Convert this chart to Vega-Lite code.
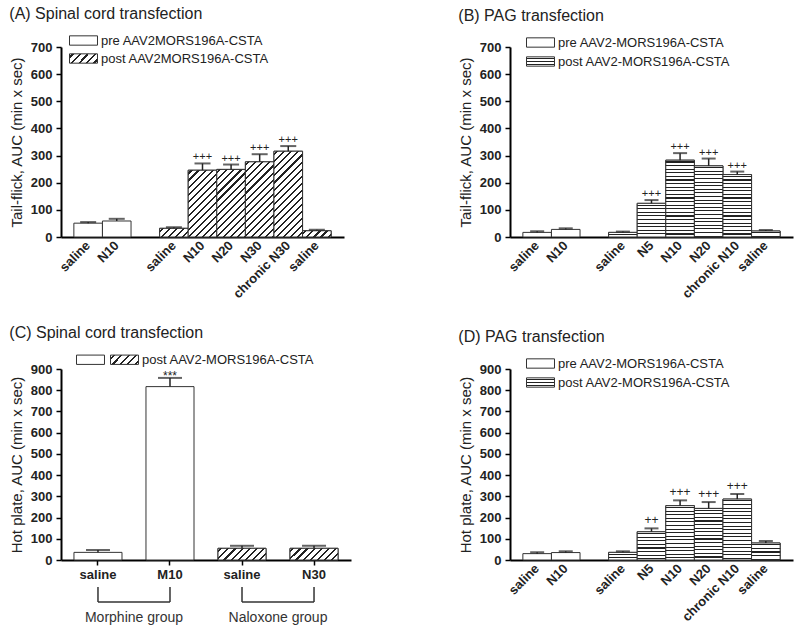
{
  "$schema": "https://vega.github.io/schema/vega-lite/v6.json",
  "background": "white",
  "padding": {"left": 9, "top": 6, "right": 4, "bottom": 0},
  "params": [
    {"name": "hatchLegend", "expr": "{gradient:'linear',x1:0,y1:0,x2:1.2,y2:0.385,stops:[{offset:0,color:'#fff'},{offset:0.07,color:'#fff'},{offset:0.07,color:'#222'},{offset:0.13,color:'#222'},{offset:0.13,color:'#fff'},{offset:0.27,color:'#fff'},{offset:0.27,color:'#222'},{offset:0.33,color:'#222'},{offset:0.33,color:'#fff'},{offset:0.47,color:'#fff'},{offset:0.47,color:'#222'},{offset:0.53,color:'#222'},{offset:0.53,color:'#fff'},{offset:0.67,color:'#fff'},{offset:0.67,color:'#222'},{offset:0.73,color:'#222'},{offset:0.73,color:'#fff'},{offset:0.87,color:'#fff'},{offset:0.87,color:'#222'},{offset:0.93,color:'#222'},{offset:0.93,color:'#fff'},{offset:1,color:'#fff'}]}"},
    {"name": "stripesLegend", "expr": "{gradient:'linear',x1:0,y1:0,x2:0,y2:1,stops:[{offset:0,color:'#fff'},{offset:0.117,color:'#fff'},{offset:0.117,color:'#222'},{offset:0.217,color:'#222'},{offset:0.217,color:'#fff'},{offset:0.45,color:'#fff'},{offset:0.45,color:'#222'},{offset:0.55,color:'#222'},{offset:0.55,color:'#fff'},{offset:0.783,color:'#fff'},{offset:0.783,color:'#222'},{offset:0.883,color:'#222'},{offset:0.883,color:'#fff'},{offset:1,color:'#fff'}]}"},
    {"name": "hatchStops", "expr": "[{offset:0,color:'#fff'},{offset:0.0175,color:'#fff'},{offset:0.0175,color:'#222'},{offset:0.0325,color:'#222'},{offset:0.0325,color:'#fff'},{offset:0.0675,color:'#fff'},{offset:0.0675,color:'#222'},{offset:0.0825,color:'#222'},{offset:0.0825,color:'#fff'},{offset:0.1175,color:'#fff'},{offset:0.1175,color:'#222'},{offset:0.1325,color:'#222'},{offset:0.1325,color:'#fff'},{offset:0.1675,color:'#fff'},{offset:0.1675,color:'#222'},{offset:0.1825,color:'#222'},{offset:0.1825,color:'#fff'},{offset:0.2175,color:'#fff'},{offset:0.2175,color:'#222'},{offset:0.2325,color:'#222'},{offset:0.2325,color:'#fff'},{offset:0.2675,color:'#fff'},{offset:0.2675,color:'#222'},{offset:0.2825,color:'#222'},{offset:0.2825,color:'#fff'},{offset:0.3175,color:'#fff'},{offset:0.3175,color:'#222'},{offset:0.3325,color:'#222'},{offset:0.3325,color:'#fff'},{offset:0.3675,color:'#fff'},{offset:0.3675,color:'#222'},{offset:0.3825,color:'#222'},{offset:0.3825,color:'#fff'},{offset:0.4175,color:'#fff'},{offset:0.4175,color:'#222'},{offset:0.4325,color:'#222'},{offset:0.4325,color:'#fff'},{offset:0.4675,color:'#fff'},{offset:0.4675,color:'#222'},{offset:0.4825,color:'#222'},{offset:0.4825,color:'#fff'},{offset:0.5175,color:'#fff'},{offset:0.5175,color:'#222'},{offset:0.5325,color:'#222'},{offset:0.5325,color:'#fff'},{offset:0.5675,color:'#fff'},{offset:0.5675,color:'#222'},{offset:0.5825,color:'#222'},{offset:0.5825,color:'#fff'},{offset:0.6175,color:'#fff'},{offset:0.6175,color:'#222'},{offset:0.6325,color:'#222'},{offset:0.6325,color:'#fff'},{offset:0.6675,color:'#fff'},{offset:0.6675,color:'#222'},{offset:0.6825,color:'#222'},{offset:0.6825,color:'#fff'},{offset:0.7175,color:'#fff'},{offset:0.7175,color:'#222'},{offset:0.7325,color:'#222'},{offset:0.7325,color:'#fff'},{offset:0.7675,color:'#fff'},{offset:0.7675,color:'#222'},{offset:0.7825,color:'#222'},{offset:0.7825,color:'#fff'},{offset:0.8175,color:'#fff'},{offset:0.8175,color:'#222'},{offset:0.8325,color:'#222'},{offset:0.8325,color:'#fff'},{offset:0.8675,color:'#fff'},{offset:0.8675,color:'#222'},{offset:0.8825,color:'#222'},{offset:0.8825,color:'#fff'},{offset:0.9175,color:'#fff'},{offset:0.9175,color:'#222'},{offset:0.9325,color:'#222'},{offset:0.9325,color:'#fff'},{offset:0.9675,color:'#fff'},{offset:0.9675,color:'#222'},{offset:0.9825,color:'#222'},{offset:0.9825,color:'#fff'},{offset:1,color:'#fff'}]"},
    {"name": "stripeStops", "expr": "[{offset:0,color:'#fff'},{offset:0.0146,color:'#fff'},{offset:0.0146,color:'#222'},{offset:0.0271,color:'#222'},{offset:0.0271,color:'#fff'},{offset:0.0563,color:'#fff'},{offset:0.0563,color:'#222'},{offset:0.0688,color:'#222'},{offset:0.0688,color:'#fff'},{offset:0.0979,color:'#fff'},{offset:0.0979,color:'#222'},{offset:0.1104,color:'#222'},{offset:0.1104,color:'#fff'},{offset:0.1396,color:'#fff'},{offset:0.1396,color:'#222'},{offset:0.1521,color:'#222'},{offset:0.1521,color:'#fff'},{offset:0.1813,color:'#fff'},{offset:0.1813,color:'#222'},{offset:0.1938,color:'#222'},{offset:0.1938,color:'#fff'},{offset:0.2229,color:'#fff'},{offset:0.2229,color:'#222'},{offset:0.2354,color:'#222'},{offset:0.2354,color:'#fff'},{offset:0.2646,color:'#fff'},{offset:0.2646,color:'#222'},{offset:0.2771,color:'#222'},{offset:0.2771,color:'#fff'},{offset:0.3063,color:'#fff'},{offset:0.3063,color:'#222'},{offset:0.3188,color:'#222'},{offset:0.3188,color:'#fff'},{offset:0.3479,color:'#fff'},{offset:0.3479,color:'#222'},{offset:0.3604,color:'#222'},{offset:0.3604,color:'#fff'},{offset:0.3896,color:'#fff'},{offset:0.3896,color:'#222'},{offset:0.4021,color:'#222'},{offset:0.4021,color:'#fff'},{offset:0.4313,color:'#fff'},{offset:0.4313,color:'#222'},{offset:0.4438,color:'#222'},{offset:0.4438,color:'#fff'},{offset:0.4729,color:'#fff'},{offset:0.4729,color:'#222'},{offset:0.4854,color:'#222'},{offset:0.4854,color:'#fff'},{offset:0.5146,color:'#fff'},{offset:0.5146,color:'#222'},{offset:0.5271,color:'#222'},{offset:0.5271,color:'#fff'},{offset:0.5563,color:'#fff'},{offset:0.5563,color:'#222'},{offset:0.5688,color:'#222'},{offset:0.5688,color:'#fff'},{offset:0.5979,color:'#fff'},{offset:0.5979,color:'#222'},{offset:0.6104,color:'#222'},{offset:0.6104,color:'#fff'},{offset:0.6396,color:'#fff'},{offset:0.6396,color:'#222'},{offset:0.6521,color:'#222'},{offset:0.6521,color:'#fff'},{offset:0.6813,color:'#fff'},{offset:0.6813,color:'#222'},{offset:0.6938,color:'#222'},{offset:0.6938,color:'#fff'},{offset:0.7229,color:'#fff'},{offset:0.7229,color:'#222'},{offset:0.7354,color:'#222'},{offset:0.7354,color:'#fff'},{offset:0.7646,color:'#fff'},{offset:0.7646,color:'#222'},{offset:0.7771,color:'#222'},{offset:0.7771,color:'#fff'},{offset:0.8063,color:'#fff'},{offset:0.8063,color:'#222'},{offset:0.8188,color:'#222'},{offset:0.8188,color:'#fff'},{offset:0.8479,color:'#fff'},{offset:0.8479,color:'#222'},{offset:0.8604,color:'#222'},{offset:0.8604,color:'#fff'},{offset:0.8896,color:'#fff'},{offset:0.8896,color:'#222'},{offset:0.9021,color:'#222'},{offset:0.9021,color:'#fff'},{offset:0.9313,color:'#fff'},{offset:0.9313,color:'#222'},{offset:0.9438,color:'#222'},{offset:0.9438,color:'#fff'},{offset:0.9729,color:'#fff'},{offset:0.9729,color:'#222'},{offset:0.9854,color:'#222'},{offset:0.9854,color:'#fff'},{offset:1,color:'#fff'}]"}
  ],
  "datasets": {
    "A": [
      {"cat": "saline", "phase": "pre AAV2MORS196A-CSTA", "mean": 51, "upper": 55, "sig": ""},
      {"cat": "N10", "phase": "pre AAV2MORS196A-CSTA", "mean": 59, "upper": 67, "sig": ""},
      {"cat": "saline\u200b", "phase": "post AAV2MORS196A-CSTA", "mean": 32, "upper": 36, "sig": ""},
      {"cat": "N10\u200b", "phase": "post AAV2MORS196A-CSTA", "mean": 246, "upper": 271, "sig": "+++"},
      {"cat": "N20", "phase": "post AAV2MORS196A-CSTA", "mean": 249, "upper": 267, "sig": "+++"},
      {"cat": "N30", "phase": "post AAV2MORS196A-CSTA", "mean": 277, "upper": 305, "sig": "+++"},
      {"cat": "chronic N30", "phase": "post AAV2MORS196A-CSTA", "mean": 316, "upper": 335, "sig": "+++"},
      {"cat": "saline\u200b\u200b", "phase": "post AAV2MORS196A-CSTA", "mean": 23, "upper": 27, "sig": ""}
    ],
    "B": [
      {"cat": "saline", "phase": "pre AAV2-MORS196A-CSTA", "mean": 17, "upper": 21, "sig": ""},
      {"cat": "N10", "phase": "pre AAV2-MORS196A-CSTA", "mean": 28, "upper": 32, "sig": ""},
      {"cat": "saline\u200b", "phase": "post AAV2-MORS196A-CSTA", "mean": 17, "upper": 20, "sig": ""},
      {"cat": "N5", "phase": "post AAV2-MORS196A-CSTA", "mean": 124, "upper": 136, "sig": "+++"},
      {"cat": "N10\u200b", "phase": "post AAV2-MORS196A-CSTA", "mean": 283, "upper": 309, "sig": "+++"},
      {"cat": "N20", "phase": "post AAV2-MORS196A-CSTA", "mean": 262, "upper": 289, "sig": "+++"},
      {"cat": "chronic N10", "phase": "post AAV2-MORS196A-CSTA", "mean": 230, "upper": 241, "sig": "+++"},
      {"cat": "saline\u200b\u200b", "phase": "post AAV2-MORS196A-CSTA", "mean": 22, "upper": 26, "sig": ""}
    ],
    "C": [
      {"cat": "saline", "phase": "pre AAV2-MORS196A-CSTA", "mean": 36, "upper": 47, "sig": ""},
      {"cat": "M10", "phase": "pre AAV2-MORS196A-CSTA", "mean": 817, "upper": 858, "sig": "***"},
      {"cat": "saline\u200b", "phase": "post AAV2-MORS196A-CSTA", "mean": 55, "upper": 67, "sig": ""},
      {"cat": "N30", "phase": "post AAV2-MORS196A-CSTA", "mean": 55, "upper": 67, "sig": ""}
    ],
    "Cgroups": [
      {"group": "Morphine group", "from": "saline", "to": "M10"},
      {"group": "Naloxone group", "from": "saline\u200b", "to": "N30"}
    ],
    "D": [
      {"cat": "saline", "phase": "pre AAV2-MORS196A-CSTA", "mean": 30, "upper": 36, "sig": ""},
      {"cat": "N10", "phase": "pre AAV2-MORS196A-CSTA", "mean": 35, "upper": 41, "sig": ""},
      {"cat": "saline\u200b", "phase": "post AAV2-MORS196A-CSTA", "mean": 36, "upper": 41, "sig": ""},
      {"cat": "N5", "phase": "post AAV2-MORS196A-CSTA", "mean": 133, "upper": 149, "sig": "++"},
      {"cat": "N10\u200b", "phase": "post AAV2-MORS196A-CSTA", "mean": 256, "upper": 281, "sig": "+++"},
      {"cat": "N20", "phase": "post AAV2-MORS196A-CSTA", "mean": 243, "upper": 273, "sig": "+++"},
      {"cat": "chronic N10", "phase": "post AAV2-MORS196A-CSTA", "mean": 287, "upper": 311, "sig": "+++"},
      {"cat": "saline\u200b\u200b", "phase": "post AAV2-MORS196A-CSTA", "mean": 80, "upper": 90, "sig": ""}
    ]
  },
  "columns": 2,
  "spacing": {"column": 107, "row": 24},
  "resolve": {"scale": {"fill": "independent"}, "legend": {"fill": "independent"}},
  "concat": [
    {
      "width": 283, "height": 190,
      "title": "(A) Spinal cord transfection",
      "data": {"name": "A"},
      "encoding": {
        "x": {"field": "cat", "type": "nominal", "sort": null,
          "scale": {"domain": ["saline", "N10", "\u200b\u200b\u200b", "saline\u200b", "N10\u200b", "N20", "N30", "chronic N30", "saline\u200b\u200b"], "paddingInner": 0, "paddingOuter": 0.45},
          "axis": {"title": null, "ticks": false, "labelAngle": -45, "labelAlign": "right", "labelBaseline": "middle", "labelPadding": 6, "labelOverlap": false}}
      },
      "layer": [
        {"mark": {"type": "bar", "stroke": "#333", "strokeWidth": 1},
         "encoding": {
           "y": {"field": "mean", "type": "quantitative", "scale": {"domain": [0, 700], "nice": false},
             "axis": {"title": "Tail-flick, AUC (min x sec)", "values": [0, 100, 200, 300, 400, 500, 600, 700], "labelOverlap": false}},
           "fill": {"field": "phase", "type": "nominal",
             "scale": {"domain": ["pre AAV2MORS196A-CSTA", "post AAV2MORS196A-CSTA"], "range": ["#ffffff", {"expr": "hatchLegend"}]},
             "legend": {"title": null, "orient": "none", "legendX": 16, "legendY": -13, "direction": "vertical", "rowPadding": 3}}
         }},
        {"transform": [{"filter": "datum.phase == 'post AAV2MORS196A-CSTA'"}],
         "mark": {"type": "bar", "stroke": "#333", "strokeWidth": 1,
           "fill": {"expr": "{gradient:'linear',x1:0,y1:0,x2:141.4*28.59/(817.4+pow(datum.mean*190/700,2)),y2:141.4*(datum.mean*190/700)/(817.4+pow(datum.mean*190/700,2)),stops:hatchStops}"}},
         "encoding": {"y": {"field": "mean", "type": "quantitative", "axis": {"title": "Tail-flick, AUC (min x sec)", "values": [0, 100, 200, 300, 400, 500, 600, 700], "labelOverlap": false}}}},
        {"mark": {"type": "rule", "color": "#222", "strokeWidth": 1.5},
         "encoding": {"y": {"field": "mean", "type": "quantitative", "axis": {"title": "Tail-flick, AUC (min x sec)", "values": [0, 100, 200, 300, 400, 500, 600, 700], "labelOverlap": false}}, "y2": {"field": "upper"}}},
        {"mark": {"type": "tick", "color": "#222", "thickness": 2, "size": 16, "orient": "horizontal"},
         "encoding": {"y": {"field": "upper", "type": "quantitative", "axis": {"title": "Tail-flick, AUC (min x sec)", "values": [0, 100, 200, 300, 400, 500, 600, 700], "labelOverlap": false}}}},
        {"mark": {"type": "text", "baseline": "bottom", "dy": -1, "fontSize": 11, "color": "#222"},
         "encoding": {"y": {"field": "upper", "type": "quantitative", "axis": {"title": "Tail-flick, AUC (min x sec)", "values": [0, 100, 200, 300, 400, 500, 600, 700], "labelOverlap": false}}, "text": {"field": "sig"}}}
      ]
    },
    {
      "width": 283, "height": 190,
      "title": "(B) PAG transfection",
      "data": {"name": "B"},
      "encoding": {
        "x": {"field": "cat", "type": "nominal", "sort": null,
          "scale": {"domain": ["saline", "N10", "\u200b\u200b\u200b", "saline\u200b", "N5", "N10\u200b", "N20", "chronic N10", "saline\u200b\u200b"], "paddingInner": 0, "paddingOuter": 0.45},
          "axis": {"title": null, "ticks": false, "labelAngle": -45, "labelAlign": "right", "labelBaseline": "middle", "labelPadding": 6, "labelOverlap": false}}
      },
      "layer": [
        {"mark": {"type": "bar", "stroke": "#333", "strokeWidth": 1},
         "encoding": {
           "y": {"field": "mean", "type": "quantitative", "scale": {"domain": [0, 700], "nice": false},
             "axis": {"title": "Tail-flick, AUC (min x sec)", "values": [0, 100, 200, 300, 400, 500, 600, 700], "labelOverlap": false}},
           "fill": {"field": "phase", "type": "nominal",
             "scale": {"domain": ["pre AAV2-MORS196A-CSTA", "post AAV2-MORS196A-CSTA"], "range": ["#ffffff", {"expr": "stripesLegend"}]},
             "legend": {"title": null, "orient": "none", "legendX": 24, "legendY": -11, "direction": "vertical", "rowPadding": 4}}
         }},
        {"transform": [{"filter": "datum.phase == 'post AAV2-MORS196A-CSTA'"}],
         "mark": {"type": "bar", "stroke": "#333", "strokeWidth": 1,
           "fill": {"expr": "{gradient:'linear',x1:0,y1:0,x2:0,y2:86.4/max(1,datum.mean*190/700),stops:stripeStops}"}},
         "encoding": {"y": {"field": "mean", "type": "quantitative", "axis": {"title": "Tail-flick, AUC (min x sec)", "values": [0, 100, 200, 300, 400, 500, 600, 700], "labelOverlap": false}}}},
        {"mark": {"type": "rule", "color": "#222", "strokeWidth": 1.5},
         "encoding": {"y": {"field": "mean", "type": "quantitative", "axis": {"title": "Tail-flick, AUC (min x sec)", "values": [0, 100, 200, 300, 400, 500, 600, 700], "labelOverlap": false}}, "y2": {"field": "upper"}}},
        {"mark": {"type": "tick", "color": "#222", "thickness": 2, "size": 14, "orient": "horizontal"},
         "encoding": {"y": {"field": "upper", "type": "quantitative", "axis": {"title": "Tail-flick, AUC (min x sec)", "values": [0, 100, 200, 300, 400, 500, 600, 700], "labelOverlap": false}}}},
        {"mark": {"type": "text", "baseline": "bottom", "dy": -1, "fontSize": 11, "color": "#222"},
         "encoding": {"y": {"field": "upper", "type": "quantitative", "axis": {"title": "Tail-flick, AUC (min x sec)", "values": [0, 100, 200, 300, 400, 500, 600, 700], "labelOverlap": false}}, "text": {"field": "sig"}}}
      ]
    },
    {
      "width": 290, "height": 191,
      "title": "(C) Spinal cord transfection",
      "layer": [
        {"data": {"name": "C"},
         "mark": {"type": "bar", "stroke": "#333", "strokeWidth": 1},
         "encoding": {
           "x": {"field": "cat", "type": "nominal", "sort": null,
             "scale": {"domain": ["saline", "M10", "saline\u200b", "N30"], "paddingInner": 0.333, "paddingOuter": 0.18},
             "axis": {"title": null, "ticks": true, "labelAngle": 0, "labelPadding": 3}},
           "y": {"field": "mean", "type": "quantitative", "scale": {"domain": [0, 900], "nice": false},
             "axis": {"title": "Hot plate, AUC (min x sec)", "values": [0, 100, 200, 300, 400, 500, 600, 700, 800, 900], "labelOverlap": false}},
           "fill": {"field": "phase", "type": "nominal",
             "scale": {"domain": ["pre AAV2-MORS196A-CSTA", "post AAV2-MORS196A-CSTA"], "range": ["#ffffff", {"expr": "hatchLegend"}]},
             "legend": {"title": null, "orient": "none", "legendX": 23, "legendY": -16, "direction": "horizontal", "columns": 2, "columnPadding": 0,
               "labelExpr": "datum.label == 'pre AAV2-MORS196A-CSTA' ? '' : datum.label"}}
         }},
        {"data": {"name": "C"},
         "transform": [{"filter": "datum.phase == 'post AAV2-MORS196A-CSTA'"}],
         "mark": {"type": "bar", "stroke": "#333", "strokeWidth": 1,
           "fill": {"expr": "{gradient:'linear',x1:0,y1:0,x2:141.4*48/(2304+pow(datum.mean*191/900,2)),y2:141.4*(datum.mean*191/900)/(2304+pow(datum.mean*191/900,2)),stops:hatchStops}"}},
         "encoding": {"x": {"field": "cat", "type": "nominal"}, "y": {"field": "mean", "type": "quantitative", "axis": {"title": "Hot plate, AUC (min x sec)", "values": [0, 100, 200, 300, 400, 500, 600, 700, 800, 900], "labelOverlap": false}}}},
        {"data": {"name": "C"},
         "mark": {"type": "rule", "color": "#222", "strokeWidth": 1.5},
         "encoding": {"x": {"field": "cat", "type": "nominal"}, "y": {"field": "mean", "type": "quantitative", "axis": {"title": "Hot plate, AUC (min x sec)", "values": [0, 100, 200, 300, 400, 500, 600, 700, 800, 900], "labelOverlap": false}}, "y2": {"field": "upper"}}},
        {"data": {"name": "C"},
         "mark": {"type": "tick", "color": "#222", "thickness": 2, "size": 24, "orient": "horizontal"},
         "encoding": {"x": {"field": "cat", "type": "nominal"}, "y": {"field": "upper", "type": "quantitative", "axis": {"title": "Hot plate, AUC (min x sec)", "values": [0, 100, 200, 300, 400, 500, 600, 700, 800, 900], "labelOverlap": false}}}},
        {"data": {"name": "C"},
         "mark": {"type": "text", "baseline": "bottom", "dy": 5, "fontSize": 12, "color": "#222"},
         "encoding": {"x": {"field": "cat", "type": "nominal"}, "y": {"field": "upper", "type": "quantitative", "axis": {"title": "Hot plate, AUC (min x sec)", "values": [0, 100, 200, 300, 400, 500, 600, 700, 800, 900], "labelOverlap": false}}, "text": {"field": "sig"}}},
        {"data": {"name": "C"},
         "mark": {"type": "rule", "color": "#333", "strokeWidth": 1.5},
         "encoding": {"x": {"field": "cat", "type": "nominal"}, "y": {"datum": -127, "type": "quantitative", "axis": {"title": "Hot plate, AUC (min x sec)", "values": [0, 100, 200, 300, 400, 500, 600, 700, 800, 900], "labelOverlap": false}}, "y2": {"datum": -198}}},
        {"data": {"name": "Cgroups"},
         "mark": {"type": "rule", "color": "#333", "strokeWidth": 1.5},
         "encoding": {"x": {"field": "from", "type": "nominal"}, "x2": {"field": "to"}, "y": {"datum": -198, "type": "quantitative", "axis": {"title": "Hot plate, AUC (min x sec)", "values": [0, 100, 200, 300, 400, 500, 600, 700, 800, 900], "labelOverlap": false}}}},
        {"data": {"name": "Cgroups"},
         "mark": {"type": "text", "fontSize": 14, "color": "#333", "dx": 36, "baseline": "middle", "align": "center"},
         "encoding": {"x": {"field": "from", "type": "nominal"}, "y": {"datum": -273, "type": "quantitative", "axis": {"title": "Hot plate, AUC (min x sec)", "values": [0, 100, 200, 300, 400, 500, 600, 700, 800, 900], "labelOverlap": false}}, "text": {"field": "group"}}}
      ]
    },
    {
      "width": 283, "height": 191,
      "title": "(D) PAG transfection",
      "data": {"name": "D"},
      "encoding": {
        "x": {"field": "cat", "type": "nominal", "sort": null,
          "scale": {"domain": ["saline", "N10", "\u200b\u200b\u200b", "saline\u200b", "N5", "N10\u200b", "N20", "chronic N10", "saline\u200b\u200b"], "paddingInner": 0, "paddingOuter": 0.45},
          "axis": {"title": null, "ticks": false, "labelAngle": -45, "labelAlign": "right", "labelBaseline": "middle", "labelPadding": 6, "labelOverlap": false}}
      },
      "layer": [
        {"mark": {"type": "bar", "stroke": "#333", "strokeWidth": 1},
         "encoding": {
           "y": {"field": "mean", "type": "quantitative", "scale": {"domain": [0, 900], "nice": false},
             "axis": {"title": "Hot plate, AUC (min x sec)", "values": [0, 100, 200, 300, 400, 500, 600, 700, 800, 900], "labelOverlap": false}},
           "fill": {"field": "phase", "type": "nominal",
             "scale": {"domain": ["pre AAV2-MORS196A-CSTA", "post AAV2-MORS196A-CSTA"], "range": ["#ffffff", {"expr": "stripesLegend"}]},
             "legend": {"title": null, "orient": "none", "legendX": 24, "legendY": -12, "direction": "vertical", "rowPadding": 4}}
         }},
        {"transform": [{"filter": "datum.phase == 'post AAV2-MORS196A-CSTA'"}],
         "mark": {"type": "bar", "stroke": "#333", "strokeWidth": 1,
           "fill": {"expr": "{gradient:'linear',x1:0,y1:0,x2:0,y2:86.4/max(1,datum.mean*191/900),stops:stripeStops}"}},
         "encoding": {"y": {"field": "mean", "type": "quantitative", "axis": {"title": "Hot plate, AUC (min x sec)", "values": [0, 100, 200, 300, 400, 500, 600, 700, 800, 900], "labelOverlap": false}}}},
        {"mark": {"type": "rule", "color": "#222", "strokeWidth": 1.5},
         "encoding": {"y": {"field": "mean", "type": "quantitative", "axis": {"title": "Hot plate, AUC (min x sec)", "values": [0, 100, 200, 300, 400, 500, 600, 700, 800, 900], "labelOverlap": false}}, "y2": {"field": "upper"}}},
        {"mark": {"type": "tick", "color": "#222", "thickness": 2, "size": 14, "orient": "horizontal"},
         "encoding": {"y": {"field": "upper", "type": "quantitative", "axis": {"title": "Hot plate, AUC (min x sec)", "values": [0, 100, 200, 300, 400, 500, 600, 700, 800, 900], "labelOverlap": false}}}},
        {"mark": {"type": "text", "baseline": "bottom", "dy": -1, "fontSize": 12, "color": "#222"},
         "encoding": {"y": {"field": "upper", "type": "quantitative", "axis": {"title": "Hot plate, AUC (min x sec)", "values": [0, 100, 200, 300, 400, 500, 600, 700, 800, 900], "labelOverlap": false}}, "text": {"field": "sig"}}}
      ]
    }
  ],
  "config": {
    "font": "Liberation Sans",
    "view": {"stroke": null},
    "title": {"font": "Liberation Sans", "fontSize": 16, "fontWeight": "normal", "color": "#222", "anchor": "start", "offset": 12},
    "axis": {"domainColor": "#000", "domainWidth": 2, "tickColor": "#000", "tickWidth": 1.5, "tickSize": 5,
      "labelFont": "Liberation Sans", "labelFontWeight": "bold", "labelFontSize": 13, "labelColor": "#222", "labelPadding": 4,
      "titleFont": "Liberation Sans", "titleFontWeight": "normal", "titleFontSize": 15, "titleColor": "#222", "titlePadding": 6, "grid": false},
    "legend": {"symbolType": "M-3,-1H3V1H-3Z", "symbolSize": 87, "symbolStrokeColor": "#333", "symbolStrokeWidth": 1,
      "labelFont": "Liberation Sans", "labelFontSize": 13, "labelColor": "#222", "labelOffset": 11, "rowPadding": 0, "padding": 0, "labelLimit": 300},
    "text": {"font": "Liberation Sans"}
  }
}
